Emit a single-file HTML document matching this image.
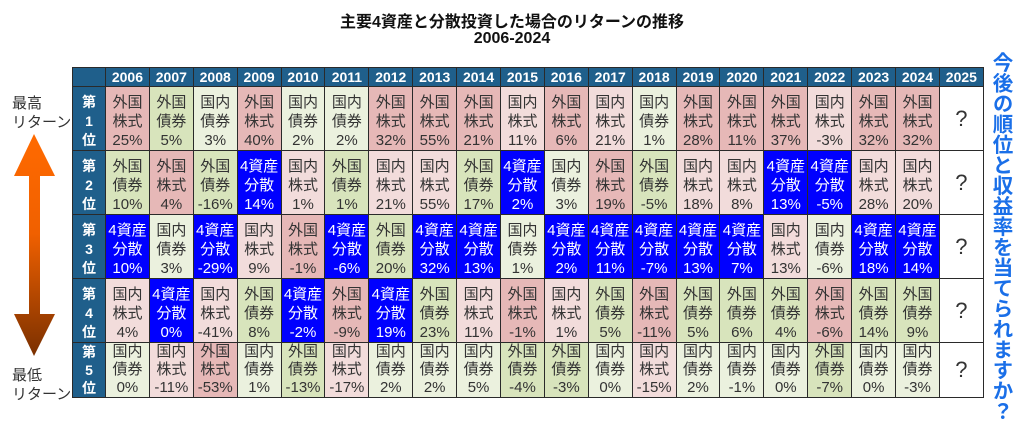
<!DOCTYPE html>
<html><head><meta charset="utf-8"><style>
body{margin:0;width:1024px;height:425px;background:#fff;position:relative;overflow:hidden;font-family:"Liberation Sans","Noto Sans CJK JP",sans-serif}
.t{position:absolute;left:0;width:1024px;text-align:center;font-weight:bold;font-size:16px;color:#111}
table{position:absolute;left:72px;top:67px;border-collapse:collapse;table-layout:fixed;width:911px}
td{border:1px solid #2a2a2a;padding:0;text-align:center;vertical-align:top;font-size:15px;color:#333;line-height:19px}
tr.h td{background:#1f5f8b;color:#fff;font-weight:bold;height:18px;line-height:18px;font-size:14px}
td.r{background:#1f5f8b;color:#fff;font-weight:bold;font-size:14px}
tr.n td{height:61px;padding-top:6px;box-sizing:border-box}
tr.l td{height:55px;padding-top:0;line-height:18px;box-sizing:border-box}
.a{background:#e6b8b7}.b{background:#d8e4bc}.c{background:#ebf1de}.d{background:#f2dcdb}.e{background:#0000ff;color:#fff}
td.q{background:#fff;font-size:22px;vertical-align:middle;padding-top:0!important}
.lab{position:absolute;left:12px;font-size:15px;color:#333;line-height:19px}
.v{position:absolute;left:985px;top:52px;width:30px;height:370px;writing-mode:vertical-rl;white-space:nowrap;font-size:20.5px;font-weight:bold;color:#1a6fe8;line-height:30px;letter-spacing:0}
</style></head><body>
<div class="t" style="top:8px">主要4資産と分散投資した場合のリターンの推移</div>
<div class="t" style="top:30px">2006-2024</div>
<div class="lab" style="top:94px">最高<br>リターン</div>
<div class="lab" style="top:366px">最低<br>リターン</div>
<svg style="position:absolute;left:0;top:0" width="80" height="425">
<defs><linearGradient id="g" x1="0" y1="0" x2="0" y2="1"><stop offset="0" stop-color="#ff6a00"/><stop offset="0.45" stop-color="#f06000"/><stop offset="1" stop-color="#7a3000"/></linearGradient></defs>
<polygon points="34,134 14,176 29,176 29,314 14,314 34,356 55,314 40,314 40,176 55,176" fill="url(#g)"/>
</svg>
<div class="v">今後の順位と収益率を当てられますか？</div>
<table>
<colgroup><col style="width:33px"><col span="20" style="width:43.9px"></colgroup>
<tr class="h"><td></td><td>2006</td><td>2007</td><td>2008</td><td>2009</td><td>2010</td><td>2011</td><td>2012</td><td>2013</td><td>2014</td><td>2015</td><td>2016</td><td>2017</td><td>2018</td><td>2019</td><td>2020</td><td>2021</td><td>2022</td><td>2023</td><td>2024</td><td>2025</td></tr>
<tr class="n"><td class="r">第<br>1<br>位</td>
<td class="a">外国<br>株式<br>25%</td><td class="b">外国<br>債券<br>5%</td><td class="c">国内<br>債券<br>3%</td><td class="a">外国<br>株式<br>40%</td><td class="c">国内<br>債券<br>2%</td><td class="c">国内<br>債券<br>2%</td><td class="a">外国<br>株式<br>32%</td><td class="a">外国<br>株式<br>55%</td><td class="a">外国<br>株式<br>21%</td><td class="d">国内<br>株式<br>11%</td><td class="a">外国<br>株式<br>6%</td><td class="d">国内<br>株式<br>21%</td><td class="c">国内<br>債券<br>1%</td><td class="a">外国<br>株式<br>28%</td><td class="a">外国<br>株式<br>11%</td><td class="a">外国<br>株式<br>37%</td><td class="d">国内<br>株式<br>-3%</td><td class="a">外国<br>株式<br>32%</td><td class="a">外国<br>株式<br>32%</td><td class="q">?</td></tr>
<tr class="n"><td class="r">第<br>2<br>位</td>
<td class="b">外国<br>債券<br>10%</td><td class="a">外国<br>株式<br>4%</td><td class="b">外国<br>債券<br>-16%</td><td class="e">4資産<br>分散<br>14%</td><td class="d">国内<br>株式<br>1%</td><td class="b">外国<br>債券<br>1%</td><td class="d">国内<br>株式<br>21%</td><td class="d">国内<br>株式<br>55%</td><td class="b">外国<br>債券<br>17%</td><td class="e">4資産<br>分散<br>2%</td><td class="c">国内<br>債券<br>3%</td><td class="a">外国<br>株式<br>19%</td><td class="b">外国<br>債券<br>-5%</td><td class="d">国内<br>株式<br>18%</td><td class="d">国内<br>株式<br>8%</td><td class="e">4資産<br>分散<br>13%</td><td class="e">4資産<br>分散<br>-5%</td><td class="d">国内<br>株式<br>28%</td><td class="d">国内<br>株式<br>20%</td><td class="q">?</td></tr>
<tr class="n"><td class="r">第<br>3<br>位</td>
<td class="e">4資産<br>分散<br>10%</td><td class="c">国内<br>債券<br>3%</td><td class="e">4資産<br>分散<br>-29%</td><td class="d">国内<br>株式<br>9%</td><td class="a">外国<br>株式<br>-1%</td><td class="e">4資産<br>分散<br>-6%</td><td class="b">外国<br>債券<br>20%</td><td class="e">4資産<br>分散<br>32%</td><td class="e">4資産<br>分散<br>13%</td><td class="c">国内<br>債券<br>1%</td><td class="e">4資産<br>分散<br>2%</td><td class="e">4資産<br>分散<br>11%</td><td class="e">4資産<br>分散<br>-7%</td><td class="e">4資産<br>分散<br>13%</td><td class="e">4資産<br>分散<br>7%</td><td class="d">国内<br>株式<br>13%</td><td class="c">国内<br>債券<br>-6%</td><td class="e">4資産<br>分散<br>18%</td><td class="e">4資産<br>分散<br>14%</td><td class="q">?</td></tr>
<tr class="n"><td class="r">第<br>4<br>位</td>
<td class="d">国内<br>株式<br>4%</td><td class="e">4資産<br>分散<br>0%</td><td class="d">国内<br>株式<br>-41%</td><td class="b">外国<br>債券<br>8%</td><td class="e">4資産<br>分散<br>-2%</td><td class="a">外国<br>株式<br>-9%</td><td class="e">4資産<br>分散<br>19%</td><td class="b">外国<br>債券<br>23%</td><td class="d">国内<br>株式<br>11%</td><td class="a">外国<br>株式<br>-1%</td><td class="d">国内<br>株式<br>1%</td><td class="b">外国<br>債券<br>5%</td><td class="a">外国<br>株式<br>-11%</td><td class="b">外国<br>債券<br>5%</td><td class="b">外国<br>債券<br>6%</td><td class="b">外国<br>債券<br>4%</td><td class="a">外国<br>株式<br>-6%</td><td class="b">外国<br>債券<br>14%</td><td class="b">外国<br>債券<br>9%</td><td class="q">?</td></tr>
<tr class="l"><td class="r">第<br>5<br>位</td>
<td class="c">国内<br>債券<br>0%</td><td class="d">国内<br>株式<br>-11%</td><td class="a">外国<br>株式<br>-53%</td><td class="c">国内<br>債券<br>1%</td><td class="b">外国<br>債券<br>-13%</td><td class="d">国内<br>株式<br>-17%</td><td class="c">国内<br>債券<br>2%</td><td class="c">国内<br>債券<br>2%</td><td class="c">国内<br>債券<br>5%</td><td class="b">外国<br>債券<br>-4%</td><td class="b">外国<br>債券<br>-3%</td><td class="c">国内<br>債券<br>0%</td><td class="d">国内<br>株式<br>-15%</td><td class="c">国内<br>債券<br>2%</td><td class="c">国内<br>債券<br>-1%</td><td class="c">国内<br>債券<br>0%</td><td class="b">外国<br>債券<br>-7%</td><td class="c">国内<br>債券<br>0%</td><td class="c">国内<br>債券<br>-3%</td><td class="q">?</td></tr>
</table>
</body></html>
